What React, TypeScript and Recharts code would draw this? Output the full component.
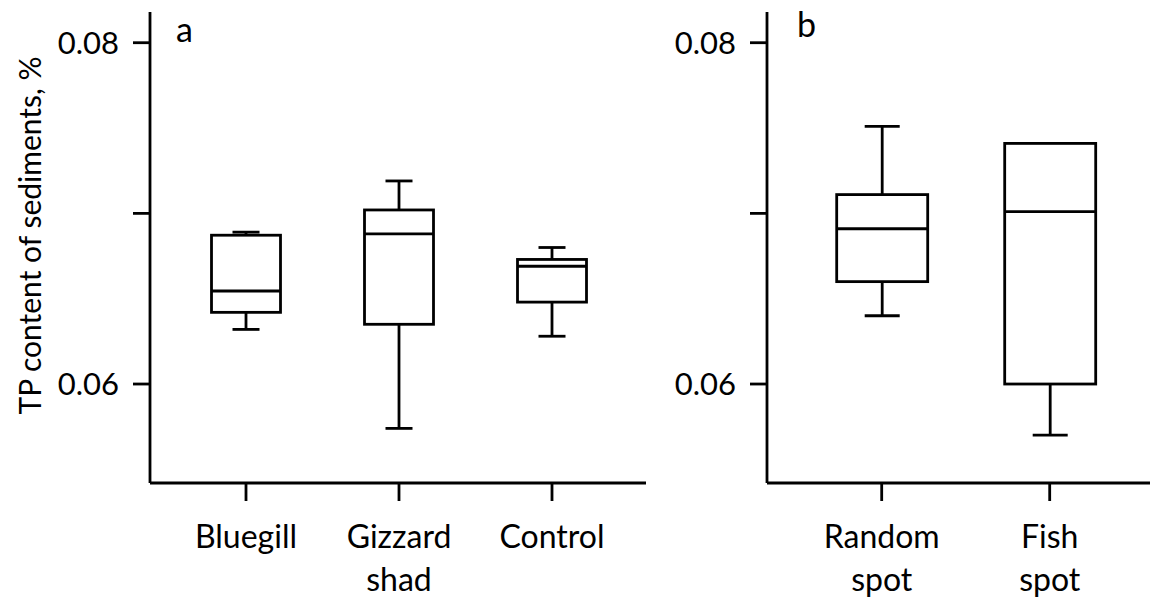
import React from 'react';
import { Bar, ComposedChart, Line, XAxis, YAxis } from 'recharts';

// panel a: fish treatment
const aCategories = ['Bluegill', 'Gizzard\nshad', 'Control'];
const aMin = [0.0632, 0.0574, 0.0628];
const aQ1 = [0.0642, 0.0635, 0.0648];
const aMedian = [0.06545, 0.0688, 0.0669];
const aQ3 = [0.06872, 0.0702, 0.0673];
const aMax = [0.0689, 0.0719, 0.0680];

// panel b: sampling location
const bCategories = ['Random\nspot', 'Fish\nspot'];
const bMin = [0.0640, 0.0570];
const bQ1 = [0.0660, 0.0600];
const bMedian = [0.0691, 0.0701];
const bQ3 = [0.0711, 0.0741];
const bMax = [0.0751, 0.0741];

const yTicks = [0.06, 0.07, 0.08];
const yLabeled = [0.06, 0.08];
const yTitle = 'TP content of sediments, %';

const FONT = 'Lato, "Open Sans", sans-serif';
const INK = '#000';
const SW = 2.8;

type Row = { name: string; min: number; q1: number; median: number; q3: number; max: number };

const rows = (cats: string[], mn: number[], q1: number[], md: number[], q3: number[], mx: number[]): Row[] =>
  cats.map((name, i) => ({ name, min: mn[i], q1: q1[i], median: md[i], q3: q3[i], max: mx[i] }));

const aData = rows(aCategories, aMin, aQ1, aMedian, aQ3, aMax);
const bData = rows(bCategories, bMin, bQ1, bMedian, bQ3, bMax);

const Whisker = (p: any) => {
  const cx = p.x + p.width / 2;
  return (
    <g>
      <line x1={cx} x2={cx} y1={p.y} y2={p.y + p.height} stroke={INK} strokeWidth={SW} />
      <line x1={p.x} x2={p.x + p.width} y1={p.y} y2={p.y} stroke={INK} strokeWidth={SW} />
      <line x1={p.x} x2={p.x + p.width} y1={p.y + p.height} y2={p.y + p.height} stroke={INK} strokeWidth={SW} />
    </g>
  );
};

const Box = (p: any) => (
  <rect x={p.x} y={p.y} width={p.width} height={p.height} fill="#fff" stroke={INK} strokeWidth={SW} />
);

const medianDot = (half: number) => (p: any) => (
  <line key={p.index} x1={p.cx - half} x2={p.cx + half} y1={p.cy} y2={p.cy} stroke={INK} strokeWidth={SW} />
);

const CatTick = (p: any) => {
  const lines = String(p.payload.value).split('\n');
  return (
    <text x={p.x} y={p.y} textAnchor="middle" fill={INK} fontSize={32} fontFamily={FONT}>
      {lines.map((l, i) => (
        <tspan key={i} x={p.x} dy={i === 0 ? 47 : 43}>{l}</tspan>
      ))}
    </text>
  );
};

const yFmt = (v: number) => (yLabeled.includes(v) ? v.toFixed(2) : '');

type PanelProps = {
  data: Row[];
  width: number;
  left: number;
  yWidth: number;
  marginRight: number;
  pad: { left: number; right: number };
  boxSize: number;
  capSize: number;
  letter: string;
  letterX: number;
  letterY: number;
  title?: string;
};

function Panel({ data, width, left, yWidth, marginRight, pad, boxSize, capSize, letter, letterX, letterY, title }: PanelProps) {
  const axisLine = { stroke: INK, strokeWidth: SW };
  return (
    <div style={{ position: 'absolute', left, top: 0, width, height: 608 }}>
      <ComposedChart width={width} height={608} data={data} margin={{ top: 12, right: marginRight, bottom: 25, left: 0 }}>
        <XAxis
          xAxisId="w"
          dataKey="name"
          type="category"
          interval={0}
          padding={pad}
          height={100}
          axisLine={axisLine}
          tickLine={axisLine}
          tickSize={18}
          tickMargin={0}
          tick={<CatTick />}
        />
        <XAxis xAxisId="b" dataKey="name" type="category" padding={pad} height={0} hide />
        <YAxis
          type="number"
          domain={[0.0542, 0.0818]}
          allowDataOverflow
          ticks={yTicks}
          tickFormatter={yFmt}
          width={yWidth}
          axisLine={axisLine}
          tickLine={axisLine}
          tickSize={17}
          tickMargin={14}
          tick={{ fill: INK, fontSize: 31, fontFamily: FONT }}
          label={
            title
              ? { value: title, angle: -90, position: 'center', dx: 30 - yWidth / 2, dy: -12, fill: INK, fontSize: 30, fontFamily: FONT }
              : undefined
          }
        />
        <Bar xAxisId="w" dataKey={(d: Row) => [d.min, d.max]} barSize={capSize} shape={<Whisker />} isAnimationActive={false} />
        <Bar xAxisId="b" dataKey={(d: Row) => [d.q1, d.q3]} barSize={boxSize} shape={<Box />} isAnimationActive={false} />
        <Line xAxisId="b" dataKey="median" stroke="none" dot={medianDot(boxSize / 2)} activeDot={false} isAnimationActive={false} />
      </ComposedChart>
      <div style={{ position: 'absolute', left: letterX, top: letterY, fontFamily: FONT, fontSize: 34, lineHeight: 1, color: INK }}>{letter}</div>
    </div>
  );
}

export default function App() {
  return (
    <div style={{ position: 'absolute', left: 0, top: 0, width: 1150, height: 608, background: '#fff' }}>
      <Panel
        data={aData}
        width={660}
        left={0}
        yWidth={150}
        marginRight={14}
        pad={{ left: 19.5, right: 17.5 }}
        boxSize={69}
        capSize={27}
        letter="a"
        letterX={176}
        letterY={12}
        title={yTitle}
      />
      <Panel
        data={bData}
        width={490}
        left={660}
        yWidth={107}
        marginRight={0}
        pad={{ left: 30.7, right: 16.3 }}
        boxSize={91}
        capSize={35}
        letter="b"
        letterX={137}
        letterY={7}
      />
    </div>
  );
}
